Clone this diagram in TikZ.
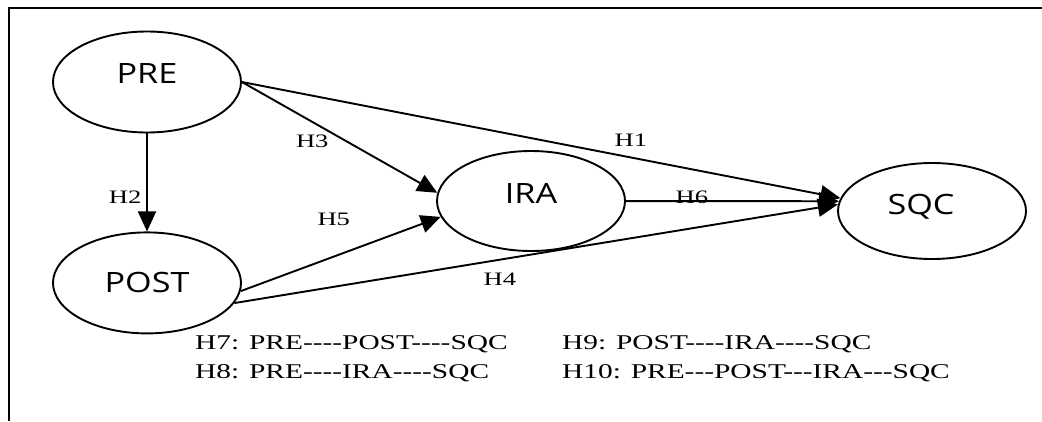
\documentclass[tikz,border=0pt]{standalone}
\usepackage{fontspec}
\setmainfont{Liberation Serif}[FakeStretch=1.4, Ligatures=TeXOff]
\newfontfamily\ovalfont{Open Sans}[FakeStretch=1.22]
\usepackage{tikz}
\usetikzlibrary{arrows.meta,positioning,shapes.geometric}

\begin{document}
\begin{tikzpicture}[
	x=1pt, y=-1pt,
	oval/.style={ellipse, draw, line width=1.9pt, minimum width=188pt, minimum height=101pt, inner sep=0pt, font=\ovalfont\fontsize{28}{30}\selectfont, text height=20pt},
	lbl/.style={font=\fontsize{19}{22}\selectfont, inner sep=1pt},
	hyp/.style={font=\fontsize{21}{25}\selectfont, inner sep=0pt, anchor=base west},
	arr/.style={-{Triangle[length=20pt, width=18pt]}, line width=1.9pt}
]
\useasboundingbox (0,0) rectangle (1042,421);
% open frame, top and left side only
\draw[line width=1.9pt] (1042,8) -- (9,8) -- (9,421);

\node[oval, text depth=18pt] (pre) at (147,82) {PRE};
\node[oval, below=98pt of pre, text depth=0pt] (post) {POST};
\node[oval, minimum height=100pt, text depth=16pt] (ira) at (531,201) {IRA};
\node[oval, minimum height=96pt, text depth=14pt] (sqc) at (932,211) {SQC\hspace*{22pt}};

\draw[arr] (pre.east) -- node[lbl, pos=.65, above=9pt] {H1} (sqc.172);
\draw[arr] (pre) -- node[lbl, pos=.65, left=3.7pt] {H2} (post);
\draw[arr] (pre.east) -- node[lbl, pos=.36, below=10.6pt] {H3} (ira.175);
\draw[arr] (post.-13) -- node[lbl, pos=.44, below=11.6pt] {H4} (sqc.176);
\draw[arr] (post.-5) -- node[lbl, pos=.465, above=29pt] {H5} (ira.190);
\draw[arr] (ira) -- node[lbl, pos=.31, yshift=4pt] {H6} (sqc.174);

% mediation hypotheses
\node[hyp] (h7) at (195,349) {H7: PRE----POST----SQC};
\node[hyp] (h8) at (195,378) {H8: PRE----IRA----SQC};
\node[hyp] (h9) at (562,349) {H9: POST----IRA----SQC};
\node[hyp] (h10) at (562,378) {H10: PRE---POST---IRA---SQC};
\end{tikzpicture}
\end{document}
